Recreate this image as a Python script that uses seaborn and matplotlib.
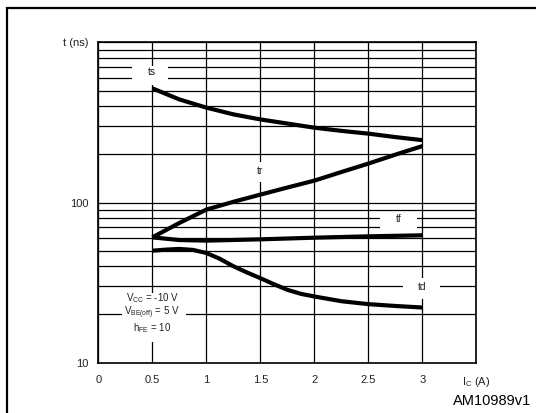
import numpy as np
import pandas as pd
import matplotlib
matplotlib.use("Agg")
import matplotlib.pyplot as plt
import matplotlib.ticker as mticker
from matplotlib.patches import Rectangle
import seaborn as sns

# ---- data ----
ic_ts = [0.5, 0.75, 1.0, 1.25, 1.5, 1.75, 2.0, 2.25, 2.5, 2.75, 3.0]
t_ts = [516, 440, 391, 355, 330, 311, 293, 280, 269, 256, 245]

ic_tr = [0.5, 0.75, 1.0, 1.25, 1.5, 1.75, 2.0, 2.25, 2.5, 2.75, 3.0]
t_tr = [60.6, 74.5, 90.3, 101, 112, 124, 137, 155, 175, 199, 225]

ic_tf = [0.5, 0.75, 1.0, 1.5, 2.0, 2.5, 3.0]
t_tf = [60.6, 58.3, 57.8, 58.9, 60.3, 61.5, 62.4]

ic_td = [0.5, 0.625, 0.75, 0.875, 1.0, 1.125, 1.25, 1.375, 1.5, 1.625, 1.75, 1.875, 2.0, 2.25, 2.5, 2.75, 3.0]
t_td = [50, 50.8, 51.3, 50.6, 48.4, 44.5, 40, 36.6, 33.7, 30.9, 28.5, 26.9, 25.9, 24.2, 23.2, 22.6, 22.1]

x_ticks = [0, 0.5, 1, 1.5, 2, 2.5, 3, 3.5]
x_ticklabels = ["0", "0.5", "1", "1.5", "2", "2.5", "3", r"I$_{\mathrm{C}}$ (A)"]
y_ticks = [10, 100, 1000]
y_ticklabels = ["10", "100", "t (ns)"]

conditions = "V$_{\\mathrm{CC}}$ = -10 V\nV$_{\\mathrm{BE(off)}}$ = 5 V\nh$_{\\mathrm{FE}}$ = 10"
figure_id = "AM10989v1"

# ---- build long table ----
frames = []
for name, xs, ys in [("ts", ic_ts, t_ts), ("tr", ic_tr, t_tr),
                     ("tf", ic_tf, t_tf), ("td", ic_td, t_td)]:
    frames.append(pd.DataFrame({"Ic": xs, "t": ys, "curve": name}))
df = pd.concat(frames, ignore_index=True)

# ---- style ----
sns.set_theme(style="white")
plt.rcParams["font.family"] = ["Liberation Sans", "DejaVu Sans"]
plt.rcParams["mathtext.fontset"] = "custom"
plt.rcParams["mathtext.rm"] = "Liberation Sans"
plt.rcParams["mathtext.it"] = "Liberation Sans:italic"
plt.rcParams["mathtext.bf"] = "Liberation Sans:bold"

W, H = 536, 413
fig = plt.figure(figsize=(W / 100, H / 100), dpi=100)
fig.patch.set_facecolor("white")

ax_l, ax_r, ax_t, ax_b = 98.3, 476.5, 42.3, 362.7
ax = fig.add_axes([ax_l / W, 1 - ax_b / H, (ax_r - ax_l) / W, (ax_b - ax_t) / H])

# outer frame (right/bottom edges run off the image)
fig.patches.append(Rectangle((6.5 / W, -0.2), 1.5, 1.2 - 8 / H, transform=fig.transFigure,
                             fill=False, edgecolor="black", linewidth=1.6, zorder=0))

sns.lineplot(data=df, x="Ic", y="t", hue="curve", units="curve", estimator=None,
             sort=True, palette={"ts": "black", "tr": "black", "tf": "black", "td": "black"},
             linewidth=3.0, legend=False, ax=ax, zorder=3)
for ln in ax.get_lines():
    ln.set_solid_capstyle("butt")
    ln.set_solid_joinstyle("round")

ax.set_yscale("log")
ax.set_xlim(0, 3.5)
ax.set_ylim(10, 1000)
ax.set_xlabel("")
ax.set_ylabel("")

ax.set_xticks(x_ticks)
ax.set_xticklabels(x_ticklabels)
ax.set_yticks(y_ticks)
ax.set_yticklabels(y_ticklabels)
ax.yaxis.set_minor_locator(mticker.LogLocator(base=10, subs=np.arange(2, 10)))
ax.yaxis.set_minor_formatter(mticker.NullFormatter())

ax.tick_params(axis="both", which="major", direction="out", length=4, width=1.1,
               color="black", labelsize=8, labelcolor="#222222", pad=3)
ax.tick_params(axis="y", which="minor", length=0)
ax.tick_params(axis="x", which="major", pad=5)

ax.set_axisbelow(True)
ax.grid(True, which="both", axis="y", color="black", linewidth=0.9)
ax.grid(True, which="major", axis="x", color="black", linewidth=0.9)
for sp in ax.spines.values():
    sp.set_visible(True)
    sp.set_color("black")
    sp.set_linewidth(1.2)

# helpers to place label boxes from reference pixel positions
def px2x(px):
    return (px - ax_l) / ((ax_r - ax_l) / 3.5)

def py2y(py):
    return 10 ** ((ax_b - py) / ((ax_b - ax_t) / 2) + 1)

def whitebox(x0, y0, x1, y1):
    ax.add_patch(Rectangle((px2x(x0), py2y(y1)), px2x(x1) - px2x(x0), py2y(y0) - py2y(y1),
                           facecolor="white", edgecolor="none", zorder=2.5))

whitebox(131.7, 66, 168.3, 85)      # ts
whitebox(250, 162, 270, 181.7)      # tr
whitebox(380, 213, 416.7, 232)      # tf
whitebox(403, 278, 440, 299)        # td
whitebox(121.7, 293, 185.7, 341.7)  # conditions

lab_kw = dict(ha="center", va="center", fontsize=7.5, color="#222222", zorder=4)
ax.text(0.5, py2y(71.7), "ts", **lab_kw)
ax.text(1.5, py2y(170.7), "tr", **lab_kw)
ax.text(px2x(398.7), py2y(219.3), "tf", **lab_kw)
ax.text(3.0, py2y(286.7), "td", **lab_kw)
ax.text(0.5, py2y(313), conditions, ha="center", va="center", fontsize=7,
        color="#222222", linespacing=1.0, zorder=4)

fig.text(531 / W, 1 - 401 / H, figure_id, ha="right", va="center", fontsize=10.5, color="black")

fig.savefig("out.png", dpi=100)
